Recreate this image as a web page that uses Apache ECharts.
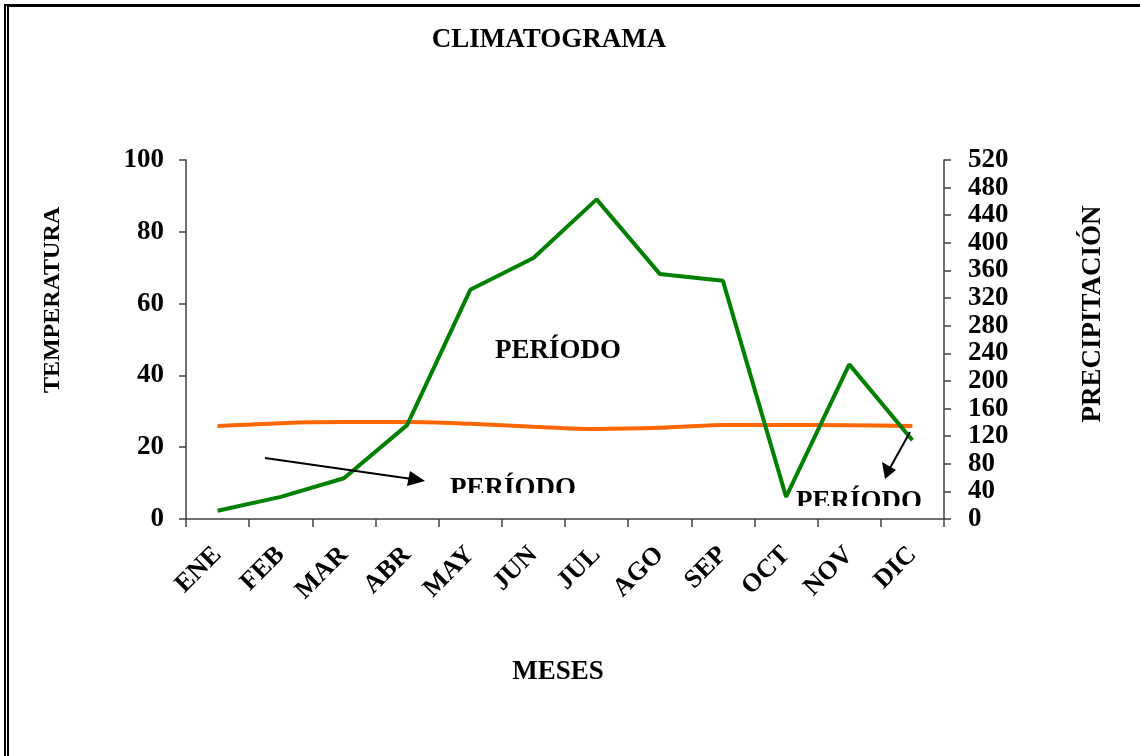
<!DOCTYPE html>
<html>
<head>
<meta charset="utf-8">
<script src="https://cdn.jsdelivr.net/npm/echarts@6/dist/echarts.min.js"></script>
<style>
  html, body { margin: 0; padding: 0; background: #fff; }
  #frame { position: absolute; left: 4px; top: 4px; width: 1136px; height: 752px;
    border-top: 3px solid #000; border-left: 5px double #000; box-sizing: border-box; }
  #chart { position: absolute; left: 0; top: 0; width: 1140px; height: 756px; }
</style>
</head>
<body>
<div id="frame"></div>
<div id="chart"></div>
<script>
var meses = ['ENE', 'FEB', 'MAR', 'ABR', 'MAY', 'JUN', 'JUL', 'AGO', 'SEP', 'OCT', 'NOV', 'DIC']
var temperatura = [25.9, 26.7, 27.0, 27.0, 26.5, 25.7, 25.1, 25.4, 26.2, 26.2, 26.1, 25.9]
var precipitacion = [12, 32, 59, 136, 332, 378, 463, 355, 345, 32, 224, 114]

var font = 'Liberation Serif'
var chart = echarts.init(document.getElementById('chart'))

chart.setOption({
  animation: false,
  grid: { left: 186, right: 196, top: 160, bottom: 237 },
  xAxis: {
    type: 'category',
    data: meses,
    boundaryGap: true,
    axisLine: { lineStyle: { color: '#404040', width: 1.5 } },
    axisTick: { show: true, inside: false, length: 8, lineStyle: { color: '#404040', width: 1.5 } },
    axisLabel: { rotate: 45, margin: 32, color: '#000', fontFamily: font, fontWeight: 'bold', fontSize: 26 },
    splitLine: { show: false }
  },
  yAxis: [
    {
      type: 'value', min: 0, max: 100, interval: 20, position: 'left',
      axisLine: { show: true, lineStyle: { color: '#404040', width: 1.5 } },
      axisTick: { show: true, length: 7, lineStyle: { color: '#404040', width: 1.5 } },
      axisLabel: { margin: 22, color: '#000', fontFamily: font, fontWeight: 'bold', fontSize: 27 },
      splitLine: { show: false }
    },
    {
      type: 'value', min: 0, max: 520, interval: 40, position: 'right',
      axisLine: { show: true, lineStyle: { color: '#404040', width: 1.5 } },
      axisTick: { show: true, length: 7, lineStyle: { color: '#404040', width: 1.5 } },
      axisLabel: { margin: 24, color: '#000', fontFamily: font, fontWeight: 'bold', fontSize: 27 },
      splitLine: { show: false }
    }
  ],
  series: [
    {
      name: 'Temperatura', type: 'line', yAxisIndex: 0, data: temperatura,
      showSymbol: false, smooth: 0.3,
      lineStyle: { color: '#ff6600', width: 4 }, z: 2
    },
    {
      name: 'Precipitación', type: 'line', yAxisIndex: 1, data: precipitacion,
      showSymbol: false,
      lineStyle: { color: '#008000', width: 4 }, z: 3
    }
  ],
  graphic: [
    { type: 'text', x: 549, y: 40, style: { text: 'CLIMATOGRAMA', font: 'bold 27px ' + font, fill: '#000', align: 'center', verticalAlign: 'middle' } },
    { type: 'text', x: 558, y: 672, style: { text: 'MESES', font: 'bold 27px ' + font, fill: '#000', align: 'center', verticalAlign: 'middle' } },
    { type: 'text', x: 53, y: 300, rotation: Math.PI / 2, style: { text: 'TEMPERATURA', font: 'bold 24px ' + font, fill: '#000', align: 'center', verticalAlign: 'middle' } },
    { type: 'text', x: 1093, y: 314, rotation: Math.PI / 2, style: { text: 'PRECIPITACIÓN', font: 'bold 27px ' + font, fill: '#000', align: 'center', verticalAlign: 'middle' } },
    { type: 'text', x: 558, y: 351, style: { text: 'PERÍODO', font: 'bold 27px ' + font, fill: '#000', align: 'center', verticalAlign: 'middle' } },
    { type: 'text', x: 513, y: 489, style: { text: 'PERÍODO', font: 'bold 27px ' + font, fill: '#000', align: 'center', verticalAlign: 'middle' } },
    { type: 'text', x: 859, y: 502, style: { text: 'PERÍODO', font: 'bold 27px ' + font, fill: '#000', align: 'center', verticalAlign: 'middle' } },
    // tapar la parte baja de los textos recortados
    { type: 'rect', shape: { x: 440, y: 493, width: 150, height: 16 }, style: { fill: '#fff' }, z: 100 },
    { type: 'rect', shape: { x: 793, y: 506, width: 135, height: 12 }, style: { fill: '#fff' }, z: 100 },
    // flechas
    { type: 'line', shape: { x1: 265, y1: 458, x2: 412, y2: 479 }, style: { stroke: '#000', lineWidth: 2 }, z: 100 },
    { type: 'polygon', shape: { points: [[425, 481], [407, 486], [410, 471]] }, style: { fill: '#000' }, z: 100 },
    { type: 'line', shape: { x1: 910, y1: 432, x2: 890, y2: 468 }, style: { stroke: '#000', lineWidth: 2 }, z: 100 },
    { type: 'polygon', shape: { points: [[885, 479], [882, 462], [896, 470]] }, style: { fill: '#000' }, z: 100 }
  ]
})
</script>
</body>
</html>
